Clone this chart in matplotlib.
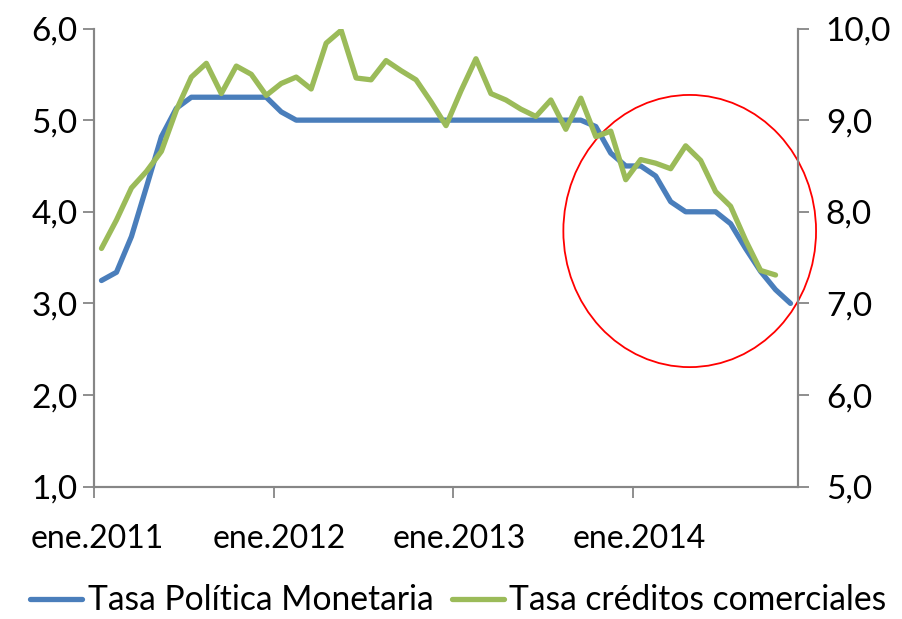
import numpy as np
import matplotlib.pyplot as plt
from matplotlib.patches import Ellipse
from matplotlib.ticker import FixedLocator, FuncFormatter

plt.rcParams['font.family'] = ['Lato', 'DejaVu Sans']

# monthly data, ene.2011 onward
tpm = [3.25, 3.34, 3.73, 4.27, 4.82, 5.13, 5.25, 5.25, 5.25, 5.25, 5.25, 5.25,
       5.09, 5.0, 5.0, 5.0, 5.0, 5.0, 5.0, 5.0, 5.0, 5.0, 5.0, 5.0,
       5.0, 5.0, 5.0, 5.0, 5.0, 5.0, 5.0, 5.0, 5.0, 4.93, 4.64, 4.5,
       4.5, 4.39, 4.11, 4.0, 4.0, 4.0, 3.87, 3.6, 3.35, 3.15, 3.0]
creditos = [7.60, 7.91, 8.26, 8.44, 8.66, 9.11, 9.47, 9.62, 9.29, 9.59, 9.50, 9.27,
            9.40, 9.47, 9.34, 9.84, 9.98, 9.46, 9.44, 9.65, 9.54, 9.44, 9.20, 8.94,
            9.32, 9.67, 9.29, 9.22, 9.12, 9.04, 9.22, 8.90, 9.24, 8.82, 8.88, 8.35,
            8.57, 8.53, 8.47, 8.72, 8.56, 8.22, 8.06, 7.69, 7.36, 7.31]
year_labels = ['ene.2011', 'ene.2012', 'ene.2013', 'ene.2014']
n_months = 47

blue = '#4A7EBB'
green = '#9BBB59'
gray = '#868686'

fig = plt.figure(figsize=(9.02, 6.19), dpi=100)
ax = fig.add_axes([94/902, 1-486.7/619, (798-94)/902, (486.7-28.5)/619])
ax2 = ax.twinx()

x1 = np.arange(len(tpm)) + 0.5
x2 = np.arange(len(creditos)) + 0.5
l1, = ax.plot(x1, tpm, color=blue, lw=3.8, solid_capstyle='round', solid_joinstyle='round',
              label='Tasa Política Monetaria')
l2, = ax2.plot(x2, creditos, color=green, lw=3.8, solid_capstyle='round', solid_joinstyle='round',
               label='Tasa créditos comerciales')

ax.set_xlim(0, n_months)
ax.set_ylim(1, 6)
ax2.set_ylim(5, 10)
ax.set_yticks(np.arange(1, 6.5, 1))
ax2.set_yticks(np.arange(5, 10.5, 1))
fmt = FuncFormatter(lambda v, p: f'{v:.1f}'.replace('.', ','))
ax.yaxis.set_major_formatter(fmt)
ax2.yaxis.set_major_formatter(fmt)

# tick marks at year boundaries, labels nudged a bit right like Excel
ax.xaxis.set_minor_locator(FixedLocator([0, 12, 24, 36]))
ax.set_xticks([0.2, 12.4, 24.4, 36.4])
ax.set_xticklabels(year_labels)
ax.tick_params(axis='x', which='major', length=0, pad=27, labelsize=23)
ax.tick_params(axis='x', which='minor', length=8, width=1.3, color=gray, direction='out')
ax.tick_params(axis='y', length=8, width=1.3, color=gray, labelsize=24, pad=4)
ax2.tick_params(axis='y', length=8, width=1.3, color=gray, labelsize=24, pad=12)

for a in (ax, ax2):
    a.spines['top'].set_visible(False)
    for s in ('left', 'right', 'bottom'):
        a.spines[s].set_color(gray)
        a.spines[s].set_linewidth(1.5)

circle = Ellipse((39.77, 3.79), 16.87, 2.97, fill=False, edgecolor='red', lw=1.3,
                 transform=ax.transData, clip_on=False, zorder=5)
ax.add_patch(circle)

fig.legend(handles=[l1, l2], loc='center', bbox_to_anchor=(0.508, 0.03), ncol=2,
           frameon=False, fontsize=24.2, handlelength=1.55, handletextpad=0.15,
           columnspacing=0.55, borderaxespad=0, borderpad=0)

fig.savefig('out.png', dpi=100)
